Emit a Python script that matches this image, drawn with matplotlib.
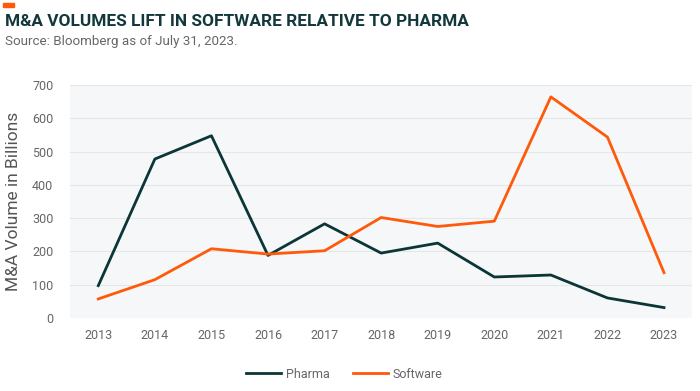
import matplotlib
matplotlib.use('Agg')
import matplotlib.pyplot as plt
from matplotlib.patches import Rectangle

years = [2013, 2014, 2015, 2016, 2017, 2018, 2019, 2020, 2021, 2022, 2023]
pharma = [97, 478, 548, 188, 283, 195, 225, 123, 129, 60, 31]
software = [57, 115, 208, 192, 202, 302, 275, 291, 665, 544, 136]
yticks = [0, 100, 200, 300, 400, 500, 600, 700]

dark = '#0b3536'
orange = '#ff5a0a'
gray = '#666666'

plt.rcParams['font.family'] = ['Roboto', 'DejaVu Sans']

fig = plt.figure(figsize=(7, 3.91), dpi=100)
ax = fig.add_axes([0.1, 0.187, 0.889, 0.595])
ax.set_facecolor('#f6f7f9')

ax.plot(years, pharma, color=dark, lw=2.0, label='Pharma')
ax.plot(years, software, color=orange, lw=2.0, label='Software')

ax.set_xlim(2012.5, 2023.5)
ax.set_ylim(0, 700)
ax.set_xticks(years)
ax.set_yticks(yticks)
ax.tick_params(length=0, colors=gray, labelsize=9, pad=8)
ax.tick_params(axis='y', pad=12)
ax.grid(axis='y', color='#e4e6e8', lw=0.8)
ax.set_axisbelow(True)
for s in ax.spines.values():
    s.set_visible(False)

ax.set_ylabel('M&A Volume in Billions', color='#555555', fontsize=12.5, labelpad=8)

leg = fig.legend(loc='center', bbox_to_anchor=(0.492, 0.043), ncol=2, frameon=False,
                 fontsize=9, handlelength=2.8, handletextpad=0.4, columnspacing=1.8)
for t in leg.get_texts():
    t.set_color(gray)

fig.patches.append(Rectangle((3 / 700, 1 - 7 / 391), 11 / 700, 4 / 391,
                             transform=fig.transFigure, color=orange))
fig.text(5 / 700, 1 - 21 / 391, 'M&A VOLUMES LIFT IN SOFTWARE RELATIVE TO PHARMA',
         fontsize=12.4, fontweight='bold', color='#12383b', va='center', ha='left')
fig.text(5 / 700, 1 - 41 / 391, 'Source: Bloomberg as of July 31, 2023.',
         fontsize=9.6, color=gray, va='center', ha='left')

fig.savefig('out.png', dpi=100)
